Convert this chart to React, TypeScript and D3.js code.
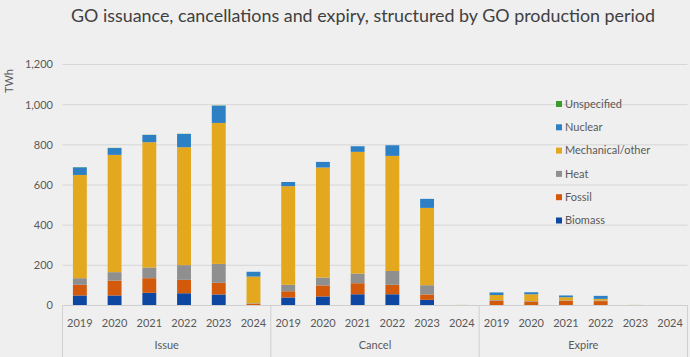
import React from "react";
import * as d3 from "d3";

const groups = ["Issue", "Cancel", "Expire"];
const years = ["2019", "2020", "2021", "2022", "2023", "2024"];
const seriesNames = ["Biomass", "Fossil", "Heat", "Mechanical/other", "Nuclear", "Unspecified"];
const seriesColors = ["#0e47a1", "#d45a0b", "#8f8f8f", "#e3a81d", "#2d80c3", "#3d9a2c"];

// values per category: Issue 2019..2024, Cancel 2019..2024, Expire 2019..2024
const biomass = [50, 50, 63, 61, 55, 2, 40, 45, 56, 56, 28, 0, 2, 2, 2, 2, 0, 0];
const fossil = [53, 74, 73, 67, 58, 6, 31, 55, 55, 47, 27, 0, 22, 18, 22, 20, 0, 0];
const heat = [33, 42, 53, 73, 94, 3, 32, 39, 48, 69, 46, 0, 3, 2, 2, 3, 0, 0];
const mechanical = [514, 584, 624, 587, 702, 133, 491, 548, 606, 573, 385, 3, 25, 34, 15, 8, 3, 0];
const nuclear = [38, 34, 36, 66, 86, 24, 21, 28, 28, 53, 45, 0, 13, 10, 9, 15, 0, 0];
const unspecified = [1, 1, 1, 1, 1, 0, 0, 0, 0, 0, 0, 0, 0, 0, 0, 0, 0, 0];

const yTicks = [0, 200, 400, 600, 800, 1000, 1200];

const W = 690;
const H = 357;
const FONT = "Lato, 'Open Sans', sans-serif";

export default function App() {
  const cats = groups.flatMap((g) => years.map((y) => `${g}|${y}`));
  const seriesVals = [biomass, fossil, heat, mechanical, nuclear, unspecified];
  const rows = cats.map((c, i) => {
    const r: any = { cat: c };
    seriesNames.forEach((s, k) => (r[s] = seriesVals[k][i]));
    return r;
  });
  const stack = d3.stack<any>().keys(seriesNames)(rows);

  const left = 62.5;
  const right = 687.5;
  const x = d3.scaleBand<string>().domain(cats).range([left, right]).paddingInner(0.6).paddingOuter(0.3);
  const y = d3.scaleLinear().domain([0, 1200]).range([305.5, 64.5]);
  const groupWidth = (right - left) / groups.length;

  return (
    <svg width={W} height={H} style={{ display: "block", position: "absolute", left: 0, top: 0 }}>
      <rect x={0} y={0} width={W} height={H} fill="#efefef" />
      <text
        x={363}
        y={22}
        textAnchor="middle"
        fontFamily={FONT}
        fontSize={17}
        fill="#404040"
        textLength={584}
        lengthAdjust="spacingAndGlyphs"
      >
        GO issuance, cancellations and expiry, structured by GO production period
      </text>
      {yTicks.map((t) => (
        <g key={t}>
          {t > 0 && <line x1={left} x2={right} y1={y(t)} y2={y(t)} stroke="#d6d6d6" strokeWidth={1} />}
          <text x={53} y={y(t)} dy="0.35em" textAnchor="end" fontFamily={FONT} fontSize={11} fill="#595959">
            {d3.format(",")(t)}
          </text>
        </g>
      ))}
      <text
        transform={`translate(13,81) rotate(-90)`}
        textAnchor="middle"
        fontFamily={FONT}
        fontSize={11}
        fill="#595959"
      >
        TWh
      </text>
      {stack.map((layer, k) => (
        <g key={layer.key} fill={seriesColors[k]}>
          {layer.map((d, i) => (
            <rect
              key={i}
              x={x(cats[i])!}
              width={x.bandwidth()}
              y={y(d[1])}
              height={Math.max(0, y(d[0]) - y(d[1]))}
            />
          ))}
        </g>
      ))}
      <line x1={left} x2={right} y1={305.5} y2={305.5} stroke="#cfcfcf" strokeWidth={1} />
      {d3.range(groups.length + 1).map((i) => (
        <line
          key={i}
          x1={left + i * groupWidth}
          x2={left + i * groupWidth}
          y1={305.5}
          y2={H}
          stroke="#d0d0d0"
          strokeWidth={1}
        />
      ))}
      {cats.map((c) => (
        <text
          key={c}
          x={x(c)! + x.bandwidth() / 2}
          y={323}
          dy="0.35em"
          textAnchor="middle"
          fontFamily={FONT}
          fontSize={11}
          fill="#595959"
        >
          {c.split("|")[1]}
        </text>
      ))}
      {groups.map((g, i) => (
        <text
          key={g}
          x={left + (i + 0.5) * groupWidth}
          y={345}
          dy="0.35em"
          textAnchor="middle"
          fontFamily={FONT}
          fontSize={11}
          fill="#595959"
        >
          {g}
        </text>
      ))}
      {seriesNames
        .slice()
        .reverse()
        .map((s, j) => {
          const k = seriesNames.length - 1 - j;
          const cy = 104 + j * 23.3;
          return (
            <g key={s}>
              <rect x={556} y={cy - 3} width={6} height={6} fill={seriesColors[k]} />
              <text x={565} y={cy} dy="0.35em" fontFamily={FONT} fontSize={11} fill="#595959">
                {s}
              </text>
            </g>
          );
        })}
    </svg>
  );
}
